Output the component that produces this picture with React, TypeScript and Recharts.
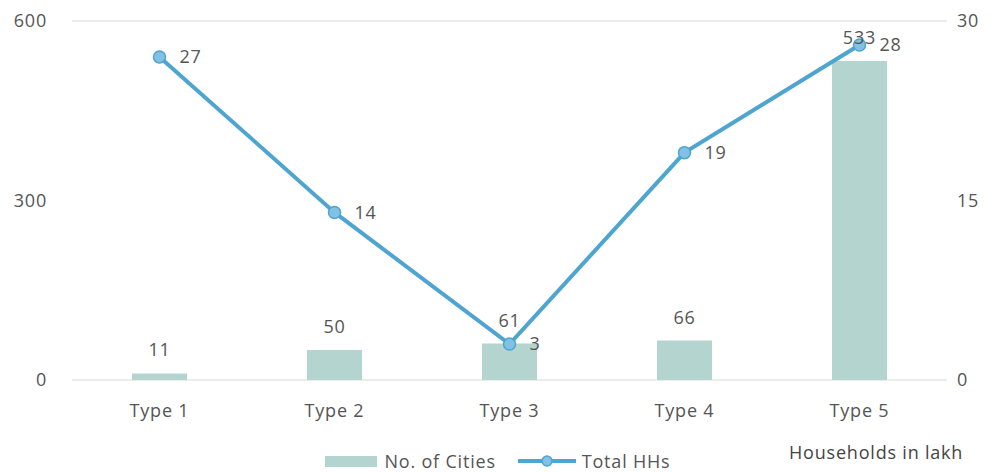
import { Bar, CartesianGrid, ComposedChart, LabelList, Legend, Line, XAxis, YAxis } from "recharts";

const categories = ["Type 1", "Type 2", "Type 3", "Type 4", "Type 5"];
const noOfCities = [11, 50, 61, 66, 533];
const totalHHs = [27, 14, 3, 19, 28];
const leftTicks = [0, 300, 600];
const rightTicks = [0, 15, 30];

const data = categories.map((name, i) => ({
  name,
  "No. of Cities": noOfCities[i],
  "Total HHs": totalHHs[i],
}));

const FONT = "'Open Sans', Lato, sans-serif";
const TEXT = "#555";
const BAR = "#b4d4cf";
const LINE = "#4ea5d0";
const txt = { fontSize: 18, fill: TEXT, fontFamily: FONT, letterSpacing: 0.8 };

function LegendContent() {
  return (
    <div
      style={{
        display: "flex",
        justifyContent: "center",
        alignItems: "center",
        fontFamily: FONT,
        fontSize: 18,
        lineHeight: "20px",
        letterSpacing: 0.8,
        color: TEXT,
        paddingTop: 18,
      }}
    >
      <svg width={54} height={14} style={{ marginRight: 6 }}>
        <rect x={0} y={2} width={52} height={11} fill={BAR} />
      </svg>
      <span style={{ marginRight: 22 }}>No. of Cities</span>
      <svg width={60} height={16} style={{ marginRight: 4 }}>
        <line x1={0} y1={8} x2={58} y2={8} stroke={LINE} strokeWidth={4} />
        <circle cx={29} cy={8} r={5} fill="#82c1e3" stroke={LINE} strokeWidth={1.5} />
      </svg>
      <span>Total HHs</span>
    </div>
  );
}

export default function App() {
  return (
    <div style={{ position: "absolute", left: 0, top: 0, width: 995, height: 473, background: "#fff" }}>
      <ComposedChart width={995} height={473} data={data} margin={{ top: 21, right: 0, left: 0, bottom: 0 }}>
        <CartesianGrid vertical={false} stroke="#d9d9d9" />
        <XAxis dataKey="name" height={53} axisLine={false} tickLine={false} tickMargin={18} tick={txt} />
        <YAxis
          yAxisId="left"
          width={72}
          domain={[0, 600]}
          ticks={leftTicks}
          axisLine={false}
          tickLine={false}
          tickMargin={19}
          tick={txt}
        />
        <YAxis
          yAxisId="right"
          orientation="right"
          width={48}
          domain={[0, 30]}
          ticks={rightTicks}
          axisLine={false}
          tickLine={false}
          tickMargin={4}
          tick={{ ...txt, textAnchor: "start" }}
        />
        <Legend verticalAlign="bottom" height={40} content={<LegendContent />} />
        <Bar yAxisId="left" dataKey="No. of Cities" fill={BAR} barSize={55} isAnimationActive={false}>
          <LabelList dataKey="No. of Cities" position="top" offset={17} style={txt} />
        </Bar>
        <Line
          yAxisId="right"
          dataKey="Total HHs"
          stroke={LINE}
          strokeWidth={4}
          dot={{ r: 6, fill: "#82c1e3", stroke: LINE, strokeWidth: 1.5 }}
          isAnimationActive={false}
        >
          <LabelList dataKey="Total HHs" position="right" offset={20} style={txt} />
        </Line>
      </ComposedChart>
      <div
        style={{
          position: "absolute",
          left: 789,
          top: 440,
          fontFamily: FONT,
          fontSize: 18,
          letterSpacing: 0.8,
          color: "#444",
        }}
      >
        Households in lakh
      </div>
    </div>
  );
}
